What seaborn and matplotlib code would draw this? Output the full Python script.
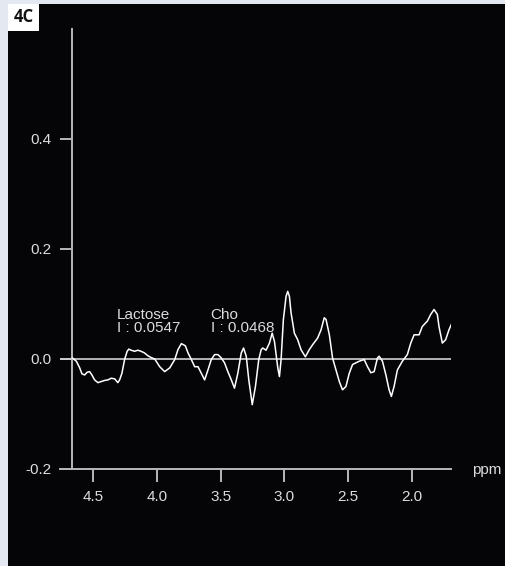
import matplotlib
matplotlib.use("Agg")
import matplotlib.pyplot as plt
from matplotlib.patches import Rectangle
import numpy as np
import pandas as pd
import seaborn as sns

# Spectrum: chemical shift (ppm) and intensity
ppm = [4.662, 4.630, 4.604, 4.586, 4.565, 4.545, 4.526, 4.508, 4.487, 4.461,
       4.435, 4.409, 4.383, 4.357, 4.330, 4.305, 4.291, 4.273, 4.252, 4.232,
       4.219, 4.201, 4.174, 4.148, 4.123, 4.096, 4.070, 4.047, 4.016, 3.977,
       3.938, 3.898, 3.859, 3.834, 3.807, 3.776, 3.755, 3.729, 3.703, 3.677,
       3.651, 3.625, 3.599, 3.573, 3.547, 3.521, 3.495, 3.469, 3.443, 3.416,
       3.391, 3.365, 3.338, 3.320, 3.299, 3.279, 3.252, 3.227, 3.201, 3.182,
       3.170, 3.144, 3.117, 3.096, 3.078, 3.052, 3.039, 3.026, 3.008, 2.987,
       2.974, 2.961, 2.948, 2.922, 2.896, 2.870, 2.836, 2.805, 2.779, 2.740,
       2.713, 2.688, 2.674, 2.648, 2.623, 2.596, 2.570, 2.545, 2.518, 2.492,
       2.466, 2.414, 2.375, 2.349, 2.323, 2.297, 2.271, 2.258, 2.232, 2.205,
       2.180, 2.162, 2.141, 2.115, 2.076, 2.037, 2.010, 1.984, 1.945, 1.920,
       1.880, 1.854, 1.828, 1.802, 1.789, 1.763, 1.737, 1.711, 1.690]
intensity = [0.002, -0.004, -0.016, -0.027, -0.029, -0.024, -0.023, -0.029, -0.038, -0.043,
             -0.041, -0.039, -0.038, -0.035, -0.036, -0.043, -0.038, -0.026, -0.001, 0.014,
             0.018, 0.016, 0.014, 0.016, 0.014, 0.011, 0.006, 0.003, 0.000, -0.014,
             -0.023, -0.016, -0.001, 0.017, 0.028, 0.024, 0.011, -0.001, -0.014, -0.014,
             -0.026, -0.038, -0.020, -0.001, 0.008, 0.008, 0.002, -0.007, -0.023, -0.038,
             -0.053, -0.026, 0.011, 0.020, 0.005, -0.038, -0.083, -0.050, -0.001, 0.017,
             0.020, 0.016, 0.029, 0.047, 0.032, -0.016, -0.032, -0.001, 0.072, 0.114,
             0.123, 0.114, 0.084, 0.047, 0.035, 0.017, 0.004, 0.017, 0.026, 0.038,
             0.053, 0.075, 0.072, 0.044, 0.002, -0.020, -0.041, -0.056, -0.050, -0.026,
             -0.010, -0.004, -0.001, -0.014, -0.025, -0.023, 0.002, 0.005, -0.004, -0.029,
             -0.056, -0.068, -0.050, -0.020, -0.004, 0.008, 0.029, 0.044, 0.044, 0.059,
             0.069, 0.081, 0.090, 0.081, 0.059, 0.029, 0.035, 0.053, 0.064]

x_ticks = [4.5, 4.0, 3.5, 3.0, 2.5, 2.0]
x_tick_labels = ["4.5", "4.0", "3.5", "3.0", "2.5", "2.0"]
y_ticks = [-0.2, 0.0, 0.2, 0.4]
y_tick_labels = ["-0.2", "0.0", "0.2", "0.4"]

peak_names = ["Lactose", "Cho"]
peak_integrals = [0.0547, 0.0468]
peak_label_ppm = [4.315, 3.578]

W, H = 505, 566
FRAME = "#e4e8f0"
PANEL = "#050508"
AXIS = "#b8b8b8"
TEXT = "#dcdcdc"

plt.rcParams["font.family"] = ["Liberation Sans", "DejaVu Sans"]

fig = plt.figure(figsize=(W / 100, H / 100), dpi=100, facecolor=FRAME)

# black display panel inside the light frame
fig.patches.append(Rectangle((8 / W, 0), 1 - 8 / W, 1 - 4 / H,
                             transform=fig.transFigure, facecolor=PANEL,
                             edgecolor="none", zorder=-2))
# panel tag
fig.patches.append(Rectangle((8 / W, 1 - 31 / H), 31 / W, 27 / H,
                             transform=fig.transFigure, facecolor="white",
                             edgecolor="none", zorder=-1))
fig.text(23.5 / W, 1 - 17.5 / H, "4C", ha="center", va="center",
         fontsize=12, fontweight="bold", color="#111111",
         family=["Open Sans", "DejaVu Sans"])

ax = fig.add_axes([60 / W, 1 - 469 / H, 391 / W, 440 / H])
ax.set_facecolor("none")
ax.set_zorder(2)

df = pd.DataFrame({"ppm": ppm, "intensity": intensity})
ax.axhline(0.0, color="#d0d0d0", lw=1.2, zorder=2)
sns.lineplot(data=df, x="ppm", y="intensity", ax=ax, color="white",
             lw=1.1, estimator=None, zorder=3)

ax.set_xlim(4.758, 1.695)
ax.set_ylim(-0.2, 0.6)

for side in ("top", "right"):
    ax.spines[side].set_visible(False)
for side in ("left", "bottom"):
    ax.spines[side].set_color(AXIS)
    ax.spines[side].set_linewidth(1.4)
ax.spines["left"].set_position(("data", 4.664))

ax.set_xticks(x_ticks, x_tick_labels)
ax.set_yticks(y_ticks, y_tick_labels)
ax.tick_params(axis="x", direction="out", length=9.4, width=1.4, color=AXIS,
               labelcolor=TEXT, labelsize=11, pad=6)
ax.tick_params(axis="y", direction="out", length=8.6, width=1.4, color=AXIS,
               labelcolor=TEXT, labelsize=11, pad=6)
ax.set_xlabel("")
ax.set_ylabel("")

fig.text(472 / W, 1 - 470 / H, "ppm", ha="left", va="center",
         fontsize=11, color=TEXT)

for name, integ, pos in zip(peak_names, peak_integrals, peak_label_ppm):
    ax.text(pos, 0.044, f"{name}\nI : {integ:.4f}", ha="left", va="bottom",
            fontsize=11, color=TEXT, linespacing=0.85, zorder=4)

fig.savefig("out.png", dpi=100, facecolor=FRAME)
